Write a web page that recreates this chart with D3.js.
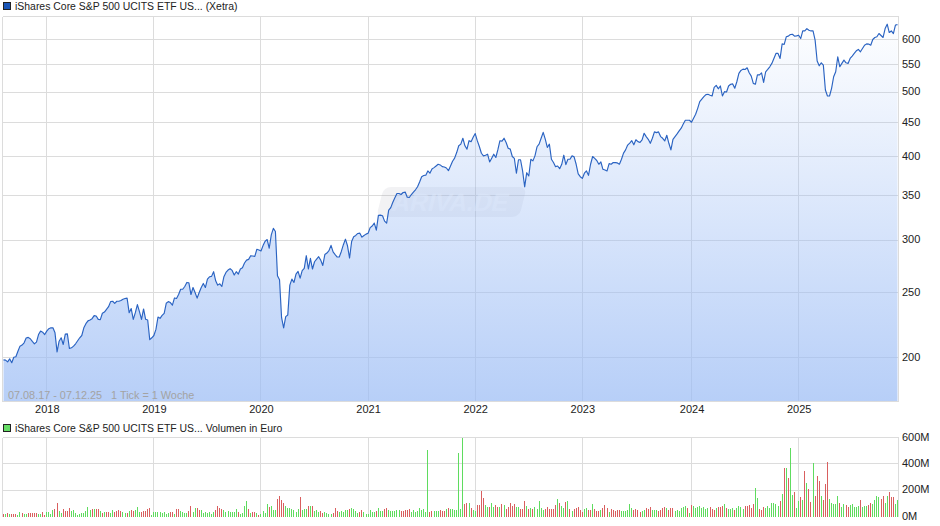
<!DOCTYPE html>
<html><head><meta charset="utf-8">
<script src="https://cdnjs.cloudflare.com/ajax/libs/d3/7.8.5/d3.min.js"></script>
<style>html,body{margin:0;padding:0;background:#fff}svg{display:block}text{font-family:"Liberation Sans",Arial,sans-serif}</style>
</head><body><svg id="c" width="940" height="526"></svg>
<script>
const startDate = "2017-08-07";
const yearTicks = [2018,2019,2020,2021,2022,2023,2024,2025];
const priceTicks = [200,250,300,350,400,450,500,550,600];
const volumeTicks = [0,200,400,600];
const titlePrice = "iShares Core S&P 500 UCITS ETF US... (Xetra)";
const titleVolume = "iShares Core S&P 500 UCITS ETF US... Volumen in Euro";
const rangeNote = "07.08.17 - 07.12.25   1 Tick = 1 Woche";
// weekly closing prices
const prices2017to2020 = [
198.4,198.2,197,199.1,196.4,200.2,200.5,204.4,208,208.8,
210.4,213.9,214.4,213.4,211.4,209.7,210.9,216.5,219.1,218.3,
216.5,219.1,220.9,221.6,221.6,217.8,203.9,211.6,214.1,209.2,
216.8,217,206.3,206.8,208,209.7,211.9,214.1,215.8,221.6,
224.8,227,227.7,228.7,231.1,230.8,228.2,228,233,234,
236.2,238.4,242.6,242.9,241.2,242.9,242.9,243.5,244.6,245.2,
245.5,233.5,236.8,228.2,233.5,240.1,234.3,228.2,236.5,228.2,
227.7,212.7,214.1,215.8,220.4,230,229,231.3,233,241.2,
242.6,241.8,239.6,245.7,245.2,248.6,253.2,253.2,255.6,259.2,
258.9,248.6,254.7,250.3,245.5,250.3,254.7,258.3,254.7,262.2,
264.3,264.7,269,260.7,256.8,258,255.6,264.4,268.3,270.5,
271.8,270.2,265.9,269,266.8,271.5,272.7,277.2,280,280.7,
284.3,284,283.7,290.7,290,289,294.4,298.9,300.6,291.7,
305.5,312.4,309.1,265.3,261.6,229.5,221.6,230.3,231.6,256.8,
262.2,259.2,266.8,269.3,263.1,270,272.1,284.3,271.5,281.7,
271.5,278.4,281,283.3,280];
const prices2020to2023 = [
274.9,285.4,286.9,289.3,294.6,288,285.4,283,283,288.5,
295.3,301,294.2,282,298.6,303.5,304.9,307,307.3,303.1,
304.9,306.3,307.3,313.2,315,318.2,310.5,326.8,327.1,326.4,
320.4,318.2,332.8,335.7,342,347.2,352.4,352.4,351.2,353.7,
354.2,348,347.6,351.2,354.2,357,360.7,366.7,373.5,375,
375.5,381,378,383.6,385.4,387.6,389.9,389,386.7,386.3,
384.9,381.4,387.6,394,398.2,406,415.6,418,426.6,415.6,
410.8,423,421.6,428,433.5,423,414.6,405,401.4,402.3,
403.7,393,398.2,403.7,399.1,410,422.9,422.4,426.6,420.4,
412.1,410.8,400.5,397.8,378,396,396,381,360.7,378.7,
374.4,396.7,394.5,401.4,414.2,418,426.6,435.3,425.3,413.2,
418,396.7,392.2,386.7,387.6,384,389.9,402.3,389.4,396.7,
396.7,401.4,400,389.9,377.2,373.5,371.3,378,381,375.3,
389.9,400.5,397.8,395,389.9,393,383.2,382.3,381,390.8,
389.9,392.2,392.2,391.7,389.9,396.7,405.2,409.8,416.6,419.5,
423,417,424.4,421.6,420.4];
const prices2023to2025 = [
424.1,434,429,425,419.2,426.5,436,435,436,429,
426.5,422.6,431,419.2,409.8,425,429,433,437.5,441.6,
448.2,454,454,453.9,450.8,457,463.4,473,484,488.3,
492.4,496,496.5,495,493.6,508.5,512,506,511,493.6,
501,500.5,511,514,514.6,507,518.5,533.6,539.2,541.6,
541,544.1,534.8,528.7,515.6,514,531,531,534.8,517.4,
536.7,541,546,552.4,562,571.8,571.8,562,591,589.8,
605.6,607,610.4,611,607,607.6,609,602,618,618,
623,619.4,618,618,598.6,557,547.9,553.6,549.1,503.9,
493.6,493.6,506.8,527.5,536.7,565.2,546,552.4,558.8,553.6,
552.4,562,566.5,571.8,577,579.7,575,581.7,588.3,591,
590.5,588.3,600,604.2,605.6,612.5,608.3,604.2,623,632.5,
614.6,618,612.5,630.7,631.5];
// weekly volume in million euro; negative = week drawn in red
const volume2017to2020 = [
-20,20,-25,20,-20,-20,-20,13,33,-25,
20,20,-28,-28,-28,-28,-28,20,20,-35,
-13,35,35,20,50,-60,-103,43,28,-55,
-40,-40,-66,43,50,28,13,20,28,28,
43,73,50,-55,58,-58,-58,43,-28,35,
-35,-35,28,50,-35,-43,-50,-43,35,28,
-28,43,-50,-43,50,71,35,-35,-43,-43,
-58,-66,13,35,35,35,35,28,35,20,
28,-35,-35,20,-58,-58,43,35,28,28,
-43,-81,35,66,-66,-50,50,28,35,28,
35,20,35,-50,-81,-66,-58,50,35,43,
35,35,35,58,-35,20,28,81,118,-58,
28,-35,-35,28,-13,20,43,28,96,-73,
81,50,50,-134,-156,-126,-103,81,66,66,
58,50,35,58,-149,50,58,58,-81,81,
-81,43,50,35];
const volume2020to2023 = [
-43,-28,35,28,20,20,-28,-66,-43,35,
43,35,50,50,-58,66,58,43,28,-35,
-50,35,20,20,50,35,35,-43,66,43,
43,-58,-66,50,43,43,43,50,50,-43,
-43,-50,-50,-58,35,50,35,43,66,50,
58,35,504,-35,-43,43,43,43,-50,-43,
-43,58,-66,58,58,50,50,481,58,595,
-96,-103,103,-66,50,43,-88,-88,-194,-141,
88,73,-73,103,73,-88,-73,73,-96,88,
-58,-73,-103,-81,-96,73,73,-58,-58,-118,
81,-58,66,-58,73,58,118,66,50,-58,
-73,-58,-58,-58,-88,134,-103,81,66,-111,
118,-58,43,-58,-66,-73,-50,-35,58,66,
-50,-50,96,-58,-43,-43,50,-66,-88,-66,
35,-58,-50,-43,-50,-50,43,43,43,50,
96,66,-50,-58,-50,-35];
const volume2023to2025 = [
43,50,-66,-58,-73,50,50,50,-43,-50,
-66,-73,66,-50,-66,-66,45,50,43,66,
73,81,-66,28,-88,81,66,73,81,66,
73,58,66,-73,-58,-50,66,-73,-73,-81,
96,-66,58,58,66,-50,66,81,73,58,
-81,-81,-88,-66,-96,217,141,-58,-50,-73,
66,81,66,103,103,96,81,-118,171,-368,
368,-292,519,164,-186,66,118,-149,126,-345,
255,-209,-111,406,-156,-307,-270,156,-126,-247,
-413,134,103,96,96,156,-103,73,96,-88,
-73,88,96,73,73,81,-126,73,81,81,
-88,-103,96,126,156,149,-134,-156,103,156,
-186,-149,-149,96,126];

const prices = [...prices2017to2020, ...prices2020to2023, ...prices2023to2025];
const volumes = [...volume2017to2020, ...volume2020to2023, ...volume2023to2025];
const parse = d3.utcParse("%Y-%m-%d");
const t0 = parse(startDate);
const weekDate = i => d3.utcDay.offset(t0, 7 * i);

const L = 3, R = 898, priceTop = 16, priceBottom = 401, volTop = 437, volBottom = 516;
const x = d3.scaleUtc().domain([t0, weekDate(prices.length - 1)]).range([3.5, 897.5]);
const y = d3.scaleLog().domain([171.8, 649.6]).range([401.5, 16.5]);
const yv = d3.scaleLinear().domain([0, 600]).range([516.5, 437.5]);
const px = v => Math.floor(v) + 0.5;
// each year's tick sits on the weekly point of the week holding 1 January
const yearDates = yearTicks.map(Y => d3.utcMonday.floor(new Date(Date.UTC(Y, 0, 1))));

const svg = d3.select("#c");
const defs = svg.append("defs");
const g = defs.append("linearGradient").attr("id", "fill").attr("gradientUnits", "userSpaceOnUse")
  .attr("x1", 0).attr("x2", 0).attr("y1", priceTop).attr("y2", priceBottom);
g.append("stop").attr("offset", 0).attr("stop-color", "#9bbcf5").attr("stop-opacity", 0);
g.append("stop").attr("offset", 1).attr("stop-color", "#9bbcf5").attr("stop-opacity", 0.72);
defs.append("clipPath").attr("id", "clipP").append("rect").attr("x", L).attr("y", priceTop).attr("width", R - L).attr("height", priceBottom - priceTop);

const gridCol = "#dcdcdc";
function frame(gTop, gBottom, yvals, yfn, closeBottom) {
  const f = svg.append("g").attr("stroke", gridCol).attr("stroke-width", 1).attr("shape-rendering", "crispEdges");
  f.selectAll("line.h").data(yvals).join("line").attr("x1", L - 0.5).attr("x2", R + 0.5).attr("y1", d => px(yfn(d))).attr("y2", d => px(yfn(d)));
  f.selectAll("line.v").data(yearDates).join("line").attr("y1", gTop + .5).attr("y2", gBottom + .5).attr("x1", d => px(x(d))).attr("x2", d => px(x(d)));
  f.append("line").attr("x1", L - .5).attr("x2", R + .5).attr("y1", gTop + .5).attr("y2", gTop + .5);
  f.append("line").attr("x1", L - .5).attr("x2", L - .5).attr("y1", gTop + .5).attr("y2", gBottom + .5);
  f.append("line").attr("x1", R + .5).attr("x2", R + .5).attr("y1", gTop + .5).attr("y2", gBottom + .5);
  if (closeBottom) f.append("line").attr("x1", L - .5).attr("x2", R + .5).attr("y1", gBottom + .5).attr("y2", gBottom + .5);
}
frame(priceTop, priceBottom, priceTicks, y, true);
frame(volTop, volBottom, volumeTicks.slice(1), yv, false);

// watermark
const wm = svg.append("g").attr("transform", "translate(450,202) skewX(-14)");
wm.append("rect").attr("x", -70).attr("y", -15).attr("width", 143).attr("height", 30).attr("rx", 7).attr("fill", "#8a8a9a").attr("fill-opacity", 0.11);
wm.append("text").attr("x", 1).attr("y", 9).attr("text-anchor", "middle").attr("font-size", 25).attr("font-weight", "bold").attr("fill", "#fff").attr("fill-opacity", 0.5).attr("textLength", 116).text("ARIVA.DE");

const area = d3.area().x((d, i) => x(weekDate(i))).y0(401.5).y1(d => y(d));
const line = d3.line().x((d, i) => x(weekDate(i))).y(d => y(d));
const plot = svg.append("g").attr("clip-path", "url(#clipP)");
plot.append("path").datum(prices).attr("d", area).attr("fill", "url(#fill)");
plot.append("path").datum(prices).attr("d", line).attr("fill", "none").attr("stroke", "#2a63c2").attr("stroke-width", 1.15).attr("stroke-linejoin", "round");

// volume bars
svg.append("g").attr("shape-rendering", "crispEdges").selectAll("rect").data(volumes).join("rect")
  .attr("x", (d, i) => Math.floor(x(weekDate(i)))).attr("width", 1)
  .attr("y", d => yv(Math.abs(d))).attr("height", d => yv(0) - yv(Math.abs(d)))
  .attr("fill", d => d < 0 ? "#d95f5f" : "#5fdc5f");

// axes
function styleAxis(a) {
  a.select(".domain").remove();
  a.selectAll(".tick line").remove();
  a.selectAll("text").attr("font-size", 11).attr("font-family", '"Liberation Sans",Arial,sans-serif').attr("fill", "#222");
}
const xAxis = d3.axisBottom(x).tickValues(yearDates).tickFormat(d => d3.utcFormat("%Y")(d3.utcDay.offset(d, 6))).tickSize(0).tickPadding(0);
svg.append("g").attr("transform", "translate(0,405)").call(xAxis).call(styleAxis);
const yAxis = d3.axisRight(y).tickValues(priceTicks).tickFormat(d3.format("d")).tickSize(0).tickPadding(0);
svg.append("g").attr("transform", "translate(902,-1)").call(yAxis).call(styleAxis);
const vAxis = d3.axisRight(yv).tickValues(volumeTicks).tickFormat(d => d + "M").tickSize(0).tickPadding(0);
svg.append("g").attr("transform", "translate(902,-1)").call(vAxis).call(styleAxis);

// legends & notes
function legend(yTop, col, label) {
  svg.append("rect").attr("x", 3.5).attr("y", yTop + .5).attr("width", 7).attr("height", 7).attr("fill", col).attr("stroke", "#222").attr("stroke-width", 1);
  svg.append("text").attr("x", 15).attr("y", yTop + 8).attr("font-size", 10.45).attr("fill", "#222").text(label);
}
legend(2, "#1a56b8", titlePrice);
legend(424, "#66dd66", titleVolume);
svg.append("text").attr("x", 8).attr("y", 399).attr("font-size", 10.85).attr("fill", "#a3a3a3").style("white-space", "pre").text(rangeNote);
</script></body></html>
